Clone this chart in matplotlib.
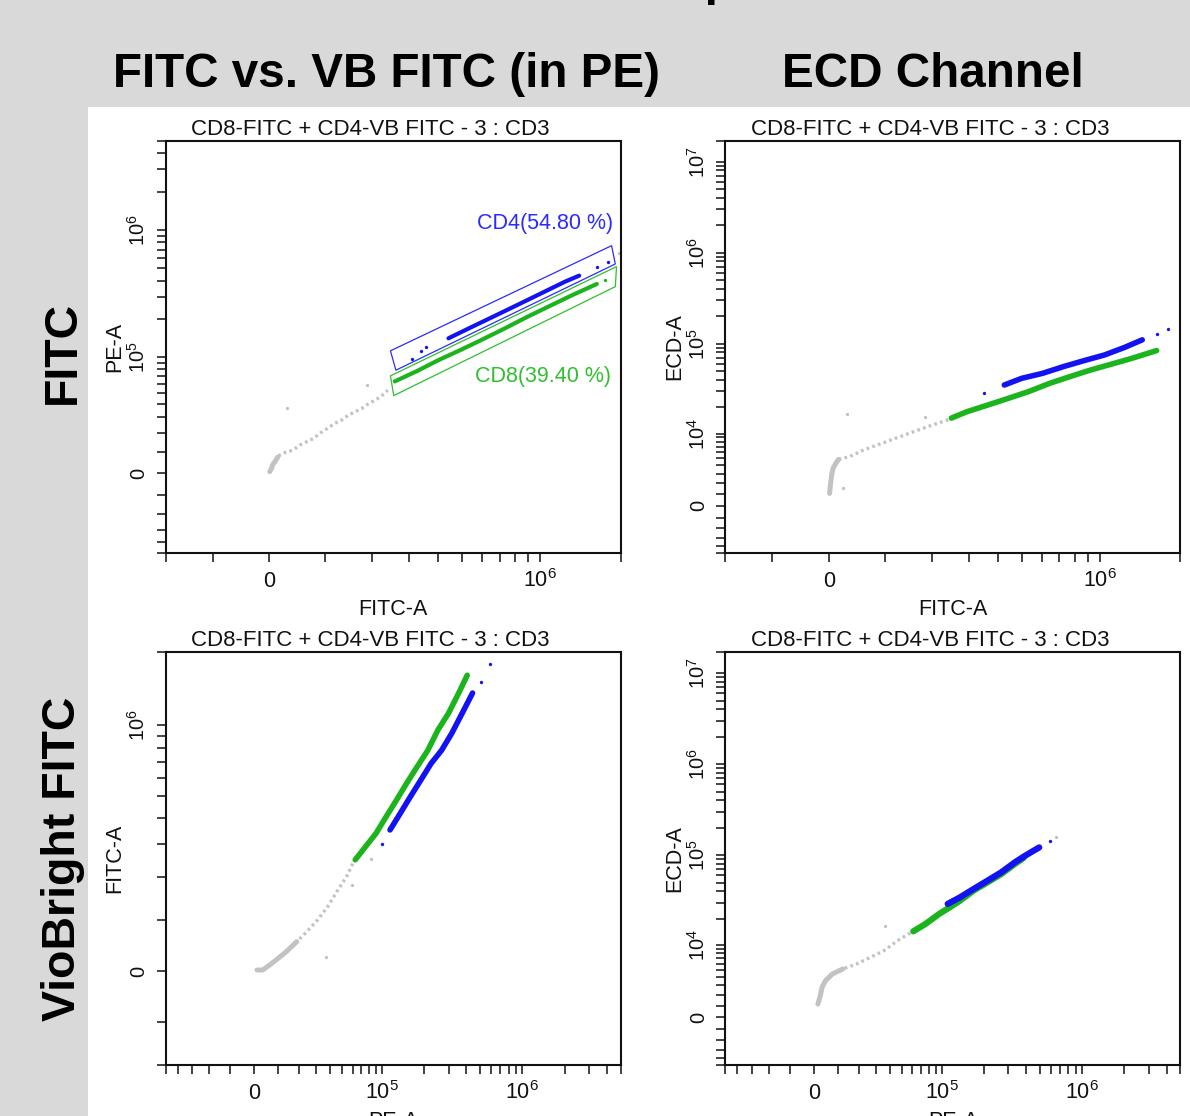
import numpy as np
import matplotlib
matplotlib.use('Agg')
import matplotlib.pyplot as plt
from matplotlib.patches import Polygon, Rectangle
from matplotlib.ticker import FixedLocator, FuncFormatter, NullFormatter

plt.rcParams['font.family'] = ['Liberation Sans', 'DejaVu Sans']
plt.rcParams['mathtext.default'] = 'regular'

# ---- data (raw channel values) ----
# top left: FITC-A (x) vs PE-A (y)
tl_gray = [(1.2e3, 700), (4.2e3, 2.2e3), (5.9e3, 3.7e3), (8.9e3, 4.8e3), (1.18e4, 6.0e3),
           (1.48e4, 7.3e3), (1.89e4, 8.4e3), (2.36e4, 9.2e3), (3.25e4, 9.9e3), (4.15e4, 1.08e4),
           (5.36e4, 1.33e4), (6.59e4, 1.50e4), (7.84e4, 1.68e4), (9.11e4, 1.99e4), (1.04e5, 2.25e4),
           (1.18e5, 2.56e4), (1.32e5, 2.78e4), (1.46e5, 3.12e4), (1.61e5, 3.38e4), (1.76e5, 3.64e4),
           (1.92e5, 4.05e4), (2.08e5, 4.34e4), (2.25e5, 4.80e4), (2.39e5, 5.30e4)]
tl_gray_dots = [(3.07e4, 3.69e4), (1.86e5, 5.82e4), (1.97e6, 6.65e5)]
tl_cd4 = [(4.40e5, 1.41e5), (5.31e5, 1.69e5), (6.22e5, 1.97e5), (7.25e5, 2.29e5),
          (8.96e5, 2.83e5), (1.07e6, 3.39e5), (1.24e6, 3.94e5), (1.40e6, 4.39e5)]
tl_cd4_dots = [(3.09e5, 9.7e4), (3.37e5, 1.12e5), (3.55e5, 1.20e5), (1.63e6, 5.17e5), (1.80e6, 5.65e5)]
tl_cd8 = [(2.58e5, 6.3e4), (3.26e5, 7.7e4), (3.99e5, 9.4e4), (4.84e5, 1.12e5), (5.83e5, 1.34e5),
          (7.25e5, 1.67e5), (8.96e5, 2.09e5), (1.07e6, 2.50e5), (1.32e6, 3.09e5), (1.63e6, 3.78e5)]
tl_cd8_dots = [(1.75e6, 4.05e5)]
cd4_gate = [(2.46e5, 1.12e5), (1.85e6, 7.54e5), (1.91e6, 5.42e5), (2.61e5, 7.8e4)]
cd8_gate = [(2.46e5, 7.0e4), (1.93e6, 5.17e5), (1.91e6, 3.60e5), (2.55e5, 4.75e4)]
gate_labels = ['CD4(54.80 %)', 'CD8(39.40 %)']

# top right: FITC-A (x) vs ECD-A (y)
tr_gray = [(1.2e3, 1.05e3), (3.0e3, 1.97e3), (4.8e3, 2.84e3), (7.1e3, 3.61e3), (1.18e4, 4.26e3),
           (1.65e4, 4.83e3), (3.55e4, 5.25e3), (5.97e4, 6.35e3), (8.47e4, 7.32e3), (1.11e5, 8.42e3),
           (1.39e5, 9.65e3), (1.68e5, 1.10e4), (2.00e5, 1.25e4), (2.35e5, 1.41e4), (2.49e5, 1.50e4)]
tr_gray_dots = [(3.07e4, 1.67e4), (1.84e5, 1.56e4), (2.36e4, 1.50e3)]
tr_cd4 = [(4.24e5, 3.50e4), (4.99e5, 4.15e4), (6.03e5, 4.71e4), (7.25e5, 5.58e4),
          (8.70e5, 6.50e4), (1.04e6, 7.50e4), (1.24e6, 9.11e4), (1.44e6, 1.10e5)]
tr_cd4_dots = [(3.49e5, 2.88e4), (1.63e6, 1.28e5), (1.80e6, 1.44e5)]
tr_cd8 = [(2.49e5, 1.50e4), (2.94e5, 1.77e4), (3.62e5, 2.10e4), (4.40e5, 2.49e4), (5.31e5, 2.96e4),
          (6.42e5, 3.65e4), (7.68e5, 4.33e4), (9.23e5, 5.13e4), (1.11e6, 5.97e4), (1.32e6, 6.90e4),
          (1.63e6, 8.38e4)]
tr_cd8_dots = []

# bottom left: PE-A (x) vs FITC-A (y)
bl_gray = [(1.2e3, 2.3e3), (3.5e3, 2.3e3), (5.5e3, 8.6e3), (9.2e3, 2.12e4), (1.38e4, 3.70e4),
           (1.89e4, 5.63e4), (2.44e4, 7.62e4), (3.08e4, 1.00e5), (3.79e4, 1.29e5), (4.60e4, 1.68e5),
           (5.39e4, 2.02e5), (6.22e4, 2.50e5)]
bl_gray_dots = [(3.67e4, 2.75e4), (5.92e4, 1.80e5), (8.23e4, 2.52e5)]
bl_cd4 = [(1.14e5, 3.51e5), (1.35e5, 4.18e5), (1.60e5, 4.97e5), (1.90e5, 5.87e5), (2.25e5, 6.91e5),
          (2.67e5, 7.85e5), (3.16e5, 9.26e5), (3.74e5, 1.12e6), (4.44e5, 1.36e6)]
bl_cd4_dots = [(1.00e5, 3.01e5), (5.11e5, 1.51e6), (5.88e5, 1.79e6)]
bl_cd8 = [(6.29e4, 2.50e5), (7.54e4, 2.92e5), (9.00e4, 3.38e5), (1.07e5, 4.05e5), (1.27e5, 4.80e5),
          (1.51e5, 5.71e5), (1.79e5, 6.70e5), (2.13e5, 7.85e5), (2.52e5, 9.57e5), (2.99e5, 1.12e6),
          (3.54e5, 1.36e6), (4.07e5, 1.61e6)]
bl_cd8_dots = []

# bottom right: PE-A (x) vs ECD-A (y)
br_gray = [(1.65e3, 1.14e3), (2.64e3, 1.90e3), (3.35e3, 2.76e3), (4.77e3, 3.53e3), (7.68e3, 4.40e3),
           (1.22e4, 5.14e3), (1.89e4, 5.96e3), (2.64e4, 7.17e3), (3.54e4, 8.65e3), (4.60e4, 1.13e4),
           (5.92e4, 1.41e4)]
br_gray_dots = [(3.61e4, 1.67e4), (6.58e5, 1.58e5)]
br_cd4 = [(1.10e5, 2.91e4), (1.35e5, 3.44e4), (1.69e5, 4.25e4), (2.13e5, 5.26e4),
          (2.67e5, 6.50e4), (3.34e5, 8.38e4), (3.96e5, 9.92e4), (4.97e5, 1.22e5)]
br_cd4_dots = [(5.88e5, 1.43e5)]
br_cd8 = [(6.10e4, 1.44e4), (7.54e4, 1.74e4), (9.51e4, 2.25e4), (1.14e5, 2.67e4), (1.35e5, 3.16e4),
          (1.69e5, 4.08e4), (2.13e5, 5.04e4), (2.67e5, 6.22e4), (3.34e5, 8.03e4), (3.85e5, 9.35e4)]
br_cd8_dots = []

panel_title = 'CD8-FITC + CD4-VB FITC - 3 : CD3'
col_titles = ['FITC vs. VB FITC (in PE)', 'ECD Channel']
row_titles = ['FITC', 'VioBright FITC']

# ---- biexponential-ish display scales (asinh with cofactor) ----
FITC = dict(w=2e5, lim=(-2e5, 2e6), major=[0, 1e6],
            minor=[-2e5, -1e5] + [k * 1e5 for k in range(1, 10)] + [2e6], label='FITC-A')
PE = dict(w=2.5e4, lim=(-5e4, 5e6), major=[0, 1e5, 1e6],
          minor=[-k * 1e4 for k in range(1, 6)] + [k * 1e4 for k in range(1, 10)]
          + [k * 1e5 for k in range(2, 10)] + [k * 1e6 for k in range(2, 6)], label='PE-A')
ECD = dict(w=3.3e3, lim=(-5e3, 1.7e7), major=[0, 1e4, 1e5, 1e6, 1e7],
           minor=[-k * 1e3 for k in range(1, 6)] + [k * 1e3 for k in range(1, 10)]
           + [k * 10.0 ** e for e in (4, 5, 6) for k in range(2, 10)] + [1.7e7], label='ECD-A')

GRAY = '#c2c2c2'
BLUE = '#1212f2'
GREEN = '#1cb41c'
TXT = '#111111'
FS = 15.5


def fmt(v, pos):
    if v == 0:
        return '0'
    return r'$10^{%d}$' % round(np.log10(v))


def set_scale(ax, axis, sc):
    w = sc['w']
    funcs = (lambda v: np.arcsinh(np.asarray(v) / w), lambda u: w * np.sinh(u))
    if axis == 'x':
        ax.set_xscale('function', functions=funcs)
        a = ax.xaxis
        ax.set_xlim(*sc['lim'])
    else:
        ax.set_yscale('function', functions=funcs)
        a = ax.yaxis
        ax.set_ylim(*sc['lim'])
    a.set_major_locator(FixedLocator(sc['major']))
    a.set_minor_locator(FixedLocator(sc['minor']))
    a.set_major_formatter(FuncFormatter(fmt))
    a.set_minor_formatter(NullFormatter())


def dots(ax, pts, color):
    if pts:
        x, y = zip(*pts)
        ax.plot(x, y, ls='none', marker='o', ms=2.4, mew=0, color=color)


def draw_panel(ax, xs, ys, gray, gray_dots, cd4, cd4_dots, cd8, cd8_dots, band_lw):
    set_scale(ax, 'x', xs)
    set_scale(ax, 'y', ys)
    gx, gy = zip(*gray)
    ax.plot(gx[:6], gy[:6], color=GRAY, lw=3.6, solid_capstyle='round')
    ax.plot(gx, gy, color=GRAY, lw=2.4, ls=(0, (0.8, 1.0)))
    dots(ax, gray_dots, GRAY)
    x8, y8 = zip(*cd8)
    ax.plot(x8, y8, color=GREEN, lw=band_lw, solid_capstyle='round')
    dots(ax, cd8_dots, GREEN)
    x4, y4 = zip(*cd4)
    ax.plot(x4, y4, color=BLUE, lw=band_lw, solid_capstyle='round')
    dots(ax, cd4_dots, BLUE)

    for sp in ax.spines.values():
        sp.set_linewidth(1.5)
        sp.set_color(TXT)
    ax.tick_params(which='both', direction='out', length=6.5, width=1.1, color=TXT,
                   labelsize=FS, labelcolor=TXT)
    ax.tick_params(axis='x', pad=18)
    ax.tick_params(axis='y', pad=8.6, labelsize=14.5)
    ax.set_title(panel_title, x=0.449, y=1.0145, pad=0, va='baseline', fontsize=16, color=TXT)
    ax.set_xlabel(xs['label'], fontsize=FS, color=TXT)
    ax.xaxis.set_label_coords(0.5, -0.1495)
    ax.xaxis.label.set_va('baseline')
    ax.set_ylabel(ys['label'], fontsize=FS, color=TXT)
    ax.yaxis.set_label_coords(-0.099, 0.5)
    ax.yaxis.label.set_va('baseline')
    for lab in ax.get_xticklabels():
        lab.set_va('baseline')
    for lab in ax.get_yticklabels():
        lab.set_rotation(90)
        lab.set_rotation_mode('anchor')
        lab.set_ha('center')
        lab.set_va('baseline')


fig = plt.figure(figsize=(11.9, 11.16), dpi=100, facecolor='#d9d9d9')
fig.patches.append(Rectangle((88 / 1190, 0), 1102 / 1190, 1009 / 1116, transform=fig.transFigure,
                             facecolor='white', edgecolor='none', zorder=-5))

ax_tl = fig.add_axes([0.13924, 0.50421, 0.38235, 0.36971])
ax_tr = fig.add_axes([0.60966, 0.50421, 0.38235, 0.36971])
ax_bl = fig.add_axes([0.13924, 0.04570, 0.38235, 0.36980])
ax_br = fig.add_axes([0.60966, 0.04570, 0.38235, 0.36980])

draw_panel(ax_tl, FITC, PE, tl_gray, tl_gray_dots, tl_cd4, tl_cd4_dots, tl_cd8, tl_cd8_dots, 3.0)
draw_panel(ax_tr, FITC, ECD, tr_gray, tr_gray_dots, tr_cd4, tr_cd4_dots, tr_cd8, tr_cd8_dots, 4.0)
draw_panel(ax_bl, PE, FITC, bl_gray, bl_gray_dots, bl_cd4, bl_cd4_dots, bl_cd8, bl_cd8_dots, 4.0)
draw_panel(ax_br, PE, ECD, br_gray, br_gray_dots, br_cd4, br_cd4_dots, br_cd8, br_cd8_dots, 4.5)

# gates on the top-left plot
ax_tl.add_patch(Polygon(cd4_gate, closed=True, fill=False, edgecolor='#2b2bff', lw=0.9))
ax_tl.add_patch(Polygon(cd8_gate, closed=True, fill=False, edgecolor='#2fbf2f', lw=0.9))
ax_tl.text(0.9837, 0.7998, gate_labels[0], transform=ax_tl.transAxes, ha='right', va='center',
           fontsize=FS, color='#2b2bff')
ax_tl.text(0.9776, 0.428, gate_labels[1], transform=ax_tl.transAxes, ha='right', va='center',
           fontsize=FS, color='#2fbf2f')

# headings on the grey frame
fig.text(386.5 / 1190, 1 - 87 / 1116, col_titles[0], ha='center', va='baseline',
         fontsize=34.3, fontweight='bold', color='black')
fig.text(932.5 / 1190, 1 - 87 / 1116, col_titles[1], ha='center', va='baseline',
         fontsize=34.3, fontweight='bold', color='black')
fig.text(75 / 1190, 1 - 352.5 / 1116, row_titles[0], rotation=90, rotation_mode='anchor',
         ha='center', va='baseline', fontsize=33.5, fontweight='bold', color='black')
fig.text(75 / 1190, 1 - 859 / 1116, row_titles[1], rotation=90, rotation_mode='anchor',
         ha='center', va='baseline', fontsize=33.5, fontweight='bold', color='black')
# slide title above the crop, only a descender shows
fig.text(480 / 1190, 1 + 5 / 1116, 'FITC Comparison', ha='left', va='baseline',
         fontsize=34.3, fontweight='bold', color='black')

fig.savefig('out.png', dpi=100, facecolor=fig.get_facecolor())
